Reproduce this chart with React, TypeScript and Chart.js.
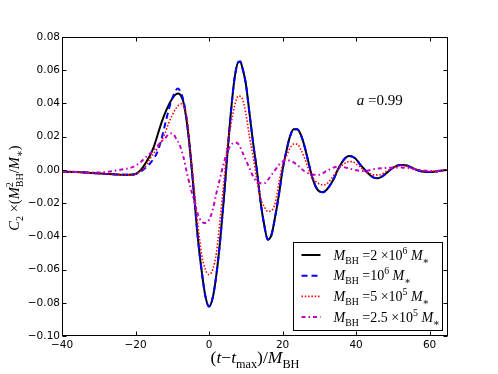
import React, { useEffect, useRef } from 'react';
import { Chart, registerables } from 'chart.js';

Chart.register(...registerables);

// ---------- data ----------
const xTicks = [-40, -20, 0, 20, 40, 60];
const yTicks = [-0.1, -0.08, -0.06, -0.04, -0.02, 0, 0.02, 0.04, 0.06, 0.08];

const blackT = [-40, -36, -32, -28, -25, -22, -20, -19, -18, -17, -16, -15, -14, -13, -12, -11, -10, -9, -8.3, -7.5, -7, -6, -5, -4, -3, -2, -1, 0, 1, 2, 3, 4, 5, 6, 7, 8, 8.5, 9, 10, 11, 12, 13, 14, 15, 16, 17, 18, 19, 20, 21, 22, 23, 24, 25, 26, 27, 28, 29, 30, 31, 32, 33, 34, 35, 36, 37, 38, 39, 40, 41, 42, 43, 44, 45, 46, 47, 48, 49, 50, 51, 52, 53, 54, 55, 56, 57, 58, 60, 62, 64, 65];
const blackC = [-0.001, -0.0013, -0.0018, -0.0024, -0.0028, -0.003, -0.0025, -0.001, 0.0015, 0.005, 0.009, 0.014, 0.021, 0.028, 0.034, 0.039, 0.043, 0.0455, 0.046, 0.044, 0.041, 0.028, 0.008, -0.017, -0.042, -0.061, -0.076, -0.0823, -0.077, -0.063, -0.043, -0.018, 0.01, 0.036, 0.056, 0.065, 0.0652, 0.062, 0.052, 0.034, 0.016, 0.0, -0.019, -0.033, -0.042, -0.039, -0.028, -0.015, 0.0, 0.011, 0.02, 0.0245, 0.0245, 0.021, 0.014, 0.005, -0.004, -0.01, -0.013, -0.0134, -0.012, -0.009, -0.005, 0.0, 0.004, 0.007, 0.0084, 0.008, 0.0065, 0.0035, 0.001, -0.0015, -0.0035, -0.0048, -0.005, -0.004, -0.0025, -0.0005, 0.0012, 0.0024, 0.003, 0.003, 0.0025, 0.0015, 0.0005, -0.0004, -0.001, -0.0013, -0.0009, -0.0002, 0.0];

const blueT = [-40, -36, -32, -28, -25, -22, -20, -18, -16, -15, -14, -13, -12, -11, -10, -9, -8.5, -8, -7, -6, -5, -4, -3, -2, -1, 0, 1, 2, 3, 4, 5, 6, 7, 8, 8.5, 9, 10, 11, 12, 13, 14, 15, 16, 17, 18, 19, 20, 21, 22, 23, 24, 25, 26, 27, 28, 29, 30, 31, 32, 33, 34, 35, 36, 37, 38, 39, 40, 41, 42, 43, 44, 45, 46, 47, 48, 49, 50, 51, 52, 53, 54, 55, 56, 57, 58, 60, 62, 64, 65];
const blueC = [-0.001, -0.0013, -0.0018, -0.0024, -0.0028, -0.003, -0.0025, 0.0, 0.004, 0.007, 0.011, 0.018, 0.027, 0.036, 0.043, 0.048, 0.049, 0.048, 0.042, 0.029, 0.008, -0.017, -0.042, -0.061, -0.076, -0.0823, -0.077, -0.063, -0.043, -0.018, 0.01, 0.036, 0.056, 0.065, 0.0652, 0.062, 0.052, 0.034, 0.016, 0.0, -0.019, -0.033, -0.042, -0.039, -0.028, -0.015, 0.0, 0.011, 0.02, 0.0245, 0.0245, 0.021, 0.014, 0.005, -0.004, -0.01, -0.013, -0.0134, -0.012, -0.009, -0.005, 0.0, 0.004, 0.007, 0.0084, 0.008, 0.0065, 0.0035, 0.001, -0.0015, -0.0035, -0.0048, -0.005, -0.004, -0.0025, -0.0005, 0.0012, 0.0024, 0.003, 0.003, 0.0025, 0.0015, 0.0005, -0.0004, -0.001, -0.0013, -0.0009, -0.0002, 0.0];

const redT = [-40, -36, -32, -28, -25, -22, -20, -19, -18, -17, -16, -15, -14, -13, -12, -11, -10, -9, -8, -7.3, -7, -6, -5, -4, -3, -2, -1, 0, 1, 2, 3, 4, 5, 6, 7, 8, 9, 10, 11, 12, 13, 14, 15, 16, 17, 18, 19, 20, 21, 22, 23, 24, 25, 26, 27, 28, 29, 30, 31, 32, 33, 34, 35, 36, 37, 38, 39, 40, 41, 42, 43, 44, 45, 46, 47, 48, 49, 50, 51, 52, 53, 54, 55, 56, 58, 60, 62, 64, 65];
const redC = [-0.001, -0.0013, -0.0018, -0.0024, -0.0028, -0.003, -0.0025, -0.0012, 0.0005, 0.003, 0.007, 0.01, 0.013, 0.017, 0.022, 0.028, 0.033, 0.037, 0.0395, 0.0398, 0.039, 0.031, 0.01, -0.012, -0.034, -0.051, -0.06, -0.063, -0.06, -0.05, -0.03, -0.008, 0.015, 0.028, 0.039, 0.0445, 0.043, 0.034, 0.02, 0.008, -0.006, -0.017, -0.022, -0.025, -0.0245, -0.02, -0.008, 0.003, 0.008, 0.013, 0.0155, 0.0155, 0.012, 0.007, 0.001, -0.004, -0.007, -0.0085, -0.009, -0.0085, -0.006, -0.003, 0.0, 0.0025, 0.004, 0.005, 0.005, 0.0035, 0.002, 0.0, -0.0015, -0.0025, -0.003, -0.003, -0.0025, -0.0012, 0.0, 0.0012, 0.002, 0.0025, 0.0025, 0.002, 0.0012, 0.0005, -0.0005, -0.0008, -0.0006, -0.0002, 0.0];

const magT = [-40, -36, -32, -29, -27, -25, -23, -21, -19, -17, -15, -13, -12, -11, -10.3, -9.5, -9, -8, -7, -6, -5, -4, -3, -2, -1.3, 0, 1, 2, 3, 4, 5, 6, 7, 8, 9, 10, 11, 12, 13, 14, 15, 16, 17, 18, 19, 20, 21, 22, 23, 24, 25, 26, 27, 28, 29, 30, 31, 32, 33, 34, 35, 36, 37, 38, 39, 40, 41, 42, 43, 44, 45, 47, 49, 51, 53, 55, 57, 59, 61, 63, 65];
const magC = [-0.001, -0.0013, -0.0016, -0.0015, -0.001, -0.0003, 0.0005, 0.0015, 0.004, 0.008, 0.012, 0.017, 0.019, 0.0215, 0.022, 0.021, 0.019, 0.015, 0.008, -0.002, -0.011, -0.019, -0.027, -0.031, -0.032, -0.03, -0.024, -0.014, -0.005, 0.004, 0.011, 0.015, 0.0165, 0.0155, 0.011, 0.006, 0.001, -0.004, -0.007, -0.008, -0.008, -0.006, -0.003, 0.0, 0.003, 0.005, 0.006, 0.0055, 0.0045, 0.003, 0.001, -0.001, -0.002, -0.0027, -0.003, -0.003, -0.002, -0.0005, 0.0005, 0.0015, 0.002, 0.002, 0.0015, 0.001, 0.0003, -0.0002, -0.0006, -0.0007, -0.0005, 0.0, 0.0005, 0.001, 0.0013, 0.0014, 0.0013, 0.0008, 0.0, -0.0005, -0.0007, -0.0004, 0.0];

// ---------- math text helper ----------
const SERIF = '"Liberation Serif", "DejaVu Serif", serif';
const SANS = '"DejaVu Sans", sans-serif';

type Seg = { t: string; it?: boolean; pos?: 'sub' | 'sup'; stackSub?: string };

const spinLabel: Seg[] = [{ t: 'a', it: true }, { t: ' =' }, { t: '0.99' }];

const legendLabels: Seg[][] = [
  [{ t: 'M', it: true }, { t: 'BH', pos: 'sub' }, { t: ' =2 ×10' }, { t: '6', pos: 'sup' }, { t: ' ' }, { t: 'M', it: true }, { t: '∗', pos: 'sub' }],
  [{ t: 'M', it: true }, { t: 'BH', pos: 'sub' }, { t: ' =10' }, { t: '6', pos: 'sup' }, { t: ' ' }, { t: 'M', it: true }, { t: '∗', pos: 'sub' }],
  [{ t: 'M', it: true }, { t: 'BH', pos: 'sub' }, { t: ' =5 ×10' }, { t: '5', pos: 'sup' }, { t: ' ' }, { t: 'M', it: true }, { t: '∗', pos: 'sub' }],
  [{ t: 'M', it: true }, { t: 'BH', pos: 'sub' }, { t: ' =2.5 ×10' }, { t: '5', pos: 'sup' }, { t: ' ' }, { t: 'M', it: true }, { t: '∗', pos: 'sub' }],
];

const xTitle: Seg[] = [{ t: '(' }, { t: 't', it: true }, { t: '−' }, { t: 't', it: true }, { t: 'max', pos: 'sub' }, { t: ')/' }, { t: 'M', it: true }, { t: 'BH', pos: 'sub' }];
const yTitle: Seg[] = [{ t: 'C', it: true }, { t: '2', pos: 'sub' }, { t: ' ×(' }, { t: 'M', it: true }, { t: '2', pos: 'sup', stackSub: 'BH' }, { t: '/' }, { t: 'M', it: true }, { t: '∗', pos: 'sub' }, { t: ')' }];

const fontFor = (it: boolean | undefined, s: number) => `${it ? 'italic ' : ''}${s}px ${SERIF}`;

function segWidth(ctx: CanvasRenderingContext2D, seg: Seg, size: number) {
  const s = seg.pos ? size * 0.7 : size;
  ctx.font = fontFor(seg.it, s);
  let w = ctx.measureText(seg.t).width;
  if (seg.stackSub) {
    ctx.font = fontFor(false, s);
    w = Math.max(w, ctx.measureText(seg.stackSub).width);
  }
  return w;
}

function drawMath(ctx: CanvasRenderingContext2D, segs: Seg[], x: number, y: number, size: number, align: 'left' | 'center') {
  const widths = segs.map((s) => segWidth(ctx, s, size));
  const total = widths.reduce((a, b) => a + b, 0);
  let cx = align === 'center' ? x - total / 2 : x;
  ctx.textAlign = 'left';
  ctx.textBaseline = 'alphabetic';
  ctx.fillStyle = '#000';
  segs.forEach((seg, i) => {
    const s = seg.pos ? size * 0.7 : size;
    ctx.font = fontFor(seg.it, s);
    if (seg.stackSub) {
      ctx.fillText(seg.t, cx, y - size * 0.42);
      ctx.font = fontFor(false, s);
      ctx.fillText(seg.stackSub, cx, y + size * 0.3);
    } else {
      const dy = seg.pos === 'sub' ? size * 0.3 : seg.pos === 'sup' ? -size * 0.42 : 0;
      ctx.fillText(seg.t, cx, y + dy);
    }
    cx += widths[i];
  });
}

const seriesStyles = [
  { color: '#000000', width: 2, dash: [] as number[] },
  { color: '#0000ff', width: 2, dash: [6, 4] },
  { color: '#ff0000', width: 1.6, dash: [1.5, 1.8] },
  { color: '#bf00bf', width: 2, dash: [4, 3, 1.5, 3] },
];

const fmtNum = (v: number, d: number) => {
  const r = Math.round(v * 1e6) / 1e6;
  return (r < 0 ? '\u2212' : '') + Math.abs(r).toFixed(d);
};

const decorPlugin = {
  id: 'decor',
  afterDraw(chart: any) {
    const ctx: CanvasRenderingContext2D = chart.ctx;
    const { left, right, top, bottom } = chart.chartArea;
    const xs = chart.scales.x;
    const ys = chart.scales.y;
    ctx.save();
    ctx.strokeStyle = '#000';
    ctx.lineWidth = 1;
    ctx.setLineDash([]);
    const L = Math.round(left) + 0.5;
    const R = Math.round(right) - 0.5;
    const T = Math.round(top) + 0.5;
    const B = Math.round(bottom) - 0.5;
    ctx.strokeRect(L, T, R - L, B - T);
    // inward ticks
    ctx.beginPath();
    xTicks.forEach((v) => {
      const px = Math.round(xs.getPixelForValue(v)) + 0.5;
      ctx.moveTo(px, B); ctx.lineTo(px, B - 4);
      ctx.moveTo(px, T); ctx.lineTo(px, T + 4);
    });
    yTicks.forEach((v) => {
      const py = Math.round(ys.getPixelForValue(v)) + 0.5;
      ctx.moveTo(L, py); ctx.lineTo(L + 4, py);
      ctx.moveTo(R, py); ctx.lineTo(R - 4, py);
    });
    ctx.stroke();

    // annotation
    drawMath(ctx, spinLabel, xs.getPixelForValue(40.2), ys.getPixelForValue(0.0388), 15, 'left');

    // legend
    const bw = 149, bh = 88;
    const bx = Math.round(right) - 6 - bw + 0.5;
    const by = Math.round(bottom) - 6 - bh + 0.5;
    ctx.fillStyle = '#fff';
    ctx.fillRect(bx, by, bw, bh);
    ctx.strokeStyle = '#000';
    ctx.lineWidth = 1;
    ctx.strokeRect(bx, by, bw, bh);
    legendLabels.forEach((lab, i) => {
      const st = seriesStyles[i];
      const ry = by + 12.5 + i * 20.7;
      ctx.save();
      ctx.strokeStyle = st.color;
      ctx.lineWidth = st.width;
      ctx.setLineDash(st.dash);
      ctx.beginPath();
      ctx.moveTo(bx + 8, ry);
      ctx.lineTo(bx + 27, ry);
      ctx.stroke();
      ctx.restore();
      drawMath(ctx, lab, bx + 40, ry + 4.5, 14, 'left');
    });

    // axis titles
    drawMath(ctx, xTitle, (left + right) / 2, 363, 17.5, 'center');
    ctx.save();
    ctx.translate(19, 188);
    ctx.rotate(-Math.PI / 2);
    drawMath(ctx, yTitle, 0, 0, 14.5, 'center');
    ctx.restore();
    ctx.restore();
  },
};

export default function App() {
  const ref = useRef<HTMLCanvasElement | null>(null);
  useEffect(() => {
    if (!ref.current) return;
    const mk = (t: number[], c: number[]) => t.map((x, i) => ({ x, y: c[i] }));
    const sets = [mk(blackT, blackC), mk(blueT, blueC), mk(redT, redC), mk(magT, magC)];
    const chart = new Chart(ref.current, {
      type: 'line',
      data: {
        datasets: sets.map((d, i) => ({
          data: d,
          borderColor: seriesStyles[i].color,
          borderWidth: seriesStyles[i].width,
          borderDash: seriesStyles[i].dash,
          pointRadius: 0,
          fill: false,
          cubicInterpolationMode: 'monotone' as const,
          order: 4 - i,
        })),
      },
      options: {
        animation: false,
        responsive: false,
        layout: { padding: { left: 0, right: 50, top: 37, bottom: 0 } },
        plugins: { legend: { display: false }, tooltip: { enabled: false } },
        scales: {
          x: {
            type: 'linear',
            min: -40,
            max: 65,
            afterBuildTicks: (s: any) => { s.ticks = xTicks.map((v) => ({ value: v })); },
            afterFit: (s: any) => { s.height = 38; },
            grid: { display: false, drawTicks: false },
            border: { display: false },
            ticks: {
              padding: 3,
              color: '#000',
              font: { family: SANS, size: 10.5 },
              maxRotation: 0,
              autoSkip: false,
              callback: (v: any) => fmtNum(Number(v), 0),
            },
          },
          y: {
            type: 'linear',
            min: -0.1,
            max: 0.08,
            afterBuildTicks: (s: any) => { s.ticks = yTicks.map((v) => ({ value: v })); },
            afterFit: (s: any) => { s.width = 62; },
            grid: { display: false, drawTicks: false },
            border: { display: false },
            ticks: {
              padding: 2,
              color: '#000',
              font: { family: SANS, size: 10.5 },
              autoSkip: false,
              callback: (v: any) => fmtNum(Number(v), 2),
            },
          },
        },
      },
      plugins: [decorPlugin],
    });
    return () => chart.destroy();
  }, []);
  return (
    <div style={{ position: 'absolute', left: 0, top: 0, width: 498, height: 374, background: '#fff' }}>
      <canvas ref={ref} width={498} height={374} style={{ display: 'block' }} />
    </div>
  );
}
